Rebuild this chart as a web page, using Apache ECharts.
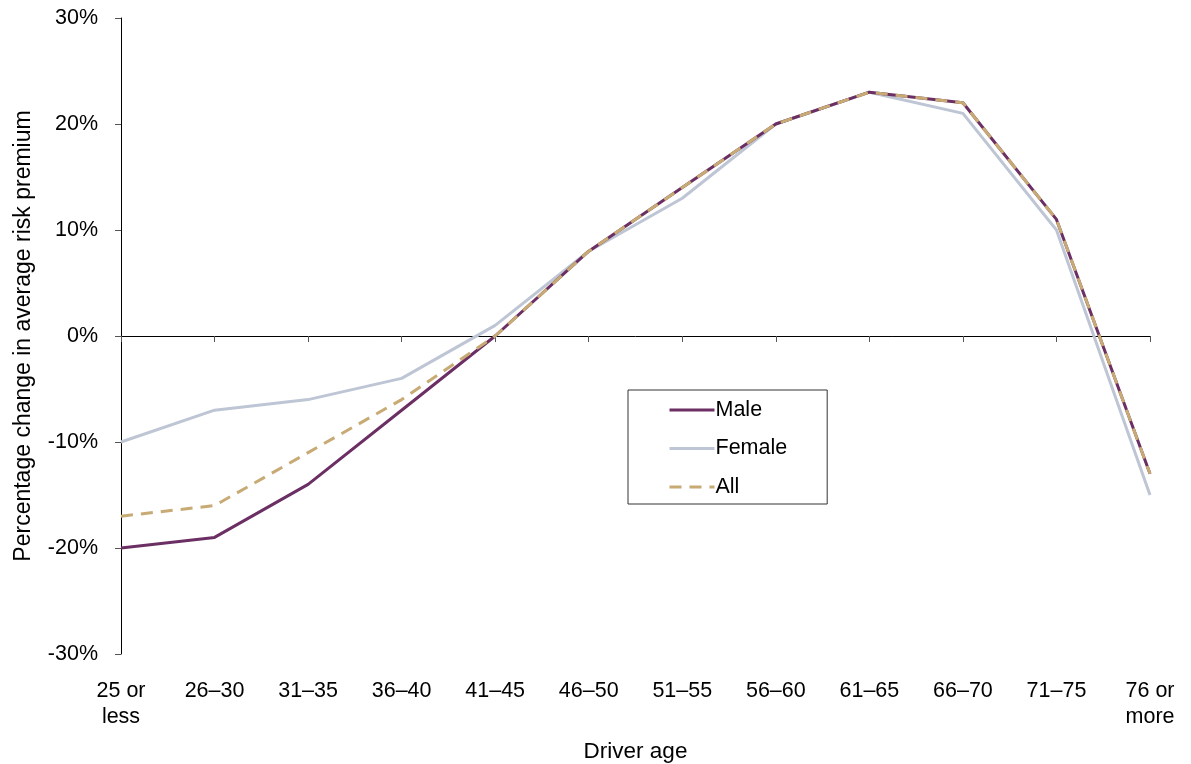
<!DOCTYPE html>
<html>
<head>
<meta charset="utf-8">
<script src="https://cdn.jsdelivr.net/npm/echarts@6/dist/echarts.min.js"></script>
<style>
html,body{margin:0;padding:0;background:#fff;}
#chart{width:1191px;height:764px;}
</style>
</head>
<body>
<div id="chart"></div>
<script>
const categories = ['25 or\nless','26–30','31–35','36–40','41–45','46–50','51–55','56–60','61–65','66–70','71–75','76 or\nmore'];
const male   = [-20,-19,-14,-7,0,8,14,20,23,22,11,-13];
const female = [-10,-7,-6,-4,1,8,13,20,23,21,10,-15];
const all    = [-17,-16,-11,-6,0,8,14,20,23,22,11,-13];
const yTicks = [-30,-20,-10,0,10,20,30];

const FONT = '"Liberation Sans", Arial, sans-serif';
const FS = 21.5;
const chart = echarts.init(document.getElementById('chart'));
chart.setOption({
  animation:false,
  backgroundColor:'#fff',
  textStyle:{fontFamily:FONT},
  grid:{left:121,right:41,top:18,bottom:110,outerBoundsMode:'none'},
  legend:{
    orient:'vertical', left:628, top:390,
    data:['Male','Female','All'],
    itemWidth:45, itemHeight:14, itemGap:16.5,
    padding:[9,40,6,40],
    borderColor:'#333', borderWidth:1,
    itemStyle:{opacity:0},
    lineStyle:{width:3},
    textStyle:{fontSize:FS,color:'#000',fontFamily:FONT,padding:[0,0,0,-4]}
  },
  xAxis:[{
    type:'category', data:categories, boundaryGap:false,
    axisLine:{onZero:true,lineStyle:{color:'#000',width:1}},
    axisTick:{show:true,alignWithLabel:true,length:6,lineStyle:{color:'#555'}},
    axisLabel:{show:false},
    splitLine:{show:false}
  },{
    type:'category', data:categories, boundaryGap:false, position:'bottom',
    axisLine:{show:false,onZero:false}, axisTick:{show:false},
    axisLabel:{fontSize:FS,color:'#000',fontFamily:FONT,margin:24,lineHeight:26,interval:0},
    name:'Driver age', nameLocation:'middle', nameGap:86,
    nameTextStyle:{fontSize:22.5,color:'#000',fontFamily:FONT}
  }],
  yAxis:{
    type:'value', min:yTicks[0], max:yTicks[yTicks.length-1], interval:10,
    axisLine:{show:true,lineStyle:{color:'#000',width:1}},
    axisTick:{show:true,length:6,lineStyle:{color:'#555'}},
    axisLabel:{fontSize:FS,color:'#000',fontFamily:FONT,margin:23,formatter:v=>v+'%'},
    splitLine:{show:false},
    name:'Percentage change in average risk premium', nameLocation:'middle', nameGap:86,
    nameTextStyle:{fontSize:23,color:'#000',fontFamily:FONT}
  },
  series:[
    {name:'Female',type:'line',data:female,symbol:'none',z:2,
     lineStyle:{color:'#BEC5D4',width:3},itemStyle:{color:'#BEC5D4'}},
    {name:'Male',type:'line',data:male,symbol:'none',z:3,
     lineStyle:{color:'#6B2F64',width:3},itemStyle:{color:'#6B2F64'}},
    {name:'All',type:'line',data:all,symbol:'none',z:4,
     lineStyle:{color:'#C8AA74',width:3,type:[12,8]},itemStyle:{color:'#C8AA74'}}
  ]
});
</script>
</body>
</html>
